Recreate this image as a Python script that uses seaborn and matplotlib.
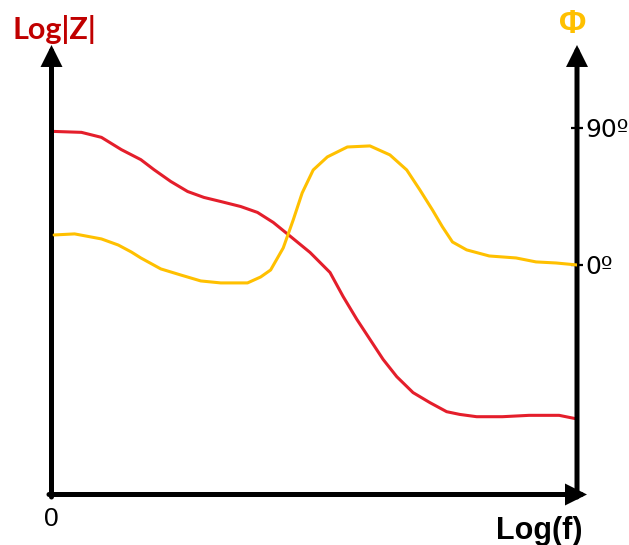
import matplotlib
matplotlib.use("Agg")
import matplotlib.pyplot as plt
import seaborn as sns

# Impedance magnitude (left axis) against log frequency
freq_mag = [0.05, 0.57, 0.95, 1.33, 1.70, 1.95, 2.27, 2.59, 2.90, 3.22, 3.60,
            3.92, 4.22, 4.55, 4.92, 5.30, 5.55, 5.81, 6.06, 6.31, 6.57, 6.88,
            7.20, 7.52, 7.77, 8.09, 8.58, 9.09, 9.66, 9.96]
log_z = [7.98, 7.96, 7.85, 7.58, 7.36, 7.14, 6.88, 6.66, 6.53, 6.44, 6.33,
         6.20, 5.98, 5.67, 5.32, 4.88, 4.35, 3.85, 3.41, 2.97, 2.59, 2.24,
         2.02, 1.82, 1.76, 1.71, 1.71, 1.74, 1.74, 1.67]

# Phase angle in degrees (right axis)
freq_phase = [0.05, 0.44, 0.95, 1.27, 1.52, 1.70, 2.08, 2.46, 2.84, 3.22, 3.73,
              3.98, 4.17, 4.41, 4.60, 4.77, 4.98, 5.25, 5.63, 6.06, 6.44, 6.76,
              7.01, 7.25, 7.44, 7.63, 7.90, 8.33, 8.84, 9.22, 9.60, 10.0]
phase = [19.7, 20.4, 17.1, 13.1, 8.5, 4.6, -2.6, -6.6, -10.5, -11.8, -11.8,
         -7.9, -3.3, 11.2, 29.6, 47.3, 62.4, 71.0, 77.5, 78.2, 72.3, 62.4,
         49.3, 36.1, 25.0, 15.1, 9.9, 5.9, 4.6, 2.0, 1.3, 0.0]

phase_ticks = [0, 90]
phase_ticklabels = ["0º", "90º"]
x_ticks = [0]
x_ticklabels = ["0"]

RED = "#E41E2B"
GOLD = "#FFC000"
AXIS_LW = 3.6

sns.set_style("white")
plt.rcParams["font.family"] = ["DejaVu Sans"]
plt.rcParams["text.color"] = "black"

fig = plt.figure(figsize=(6.29, 5.45), dpi=100)
ax = fig.add_axes([51.5 / 629, 50.5 / 545, 525.5 / 629, 449.5 / 545])
ax2 = ax.twinx()

sns.lineplot(x=freq_mag, y=log_z, ax=ax, color=RED, lw=2.2)
sns.lineplot(x=freq_phase, y=phase, ax=ax2, color=GOLD, lw=2.2)

ax.set_xlim(0, 10)
ax.set_ylim(0, 9.88)
ax2.set_ylim(-150.8, 144.5)

for a in (ax, ax2):
    for s in a.spines.values():
        s.set_visible(False)
    a.set_facecolor("none")

# Axis lines with arrow heads
arrow_kw = dict(arrowstyle="-|>,head_length=1.0,head_width=0.5",
                mutation_scale=10, lw=AXIS_LW, color="black",
                shrinkA=0, shrinkB=0, joinstyle="miter")
ax.annotate("", xy=(0, 1), xytext=(0, -0.0056), xycoords="axes fraction",
            textcoords="axes fraction", arrowprops=arrow_kw,
            annotation_clip=False)
ax.annotate("", xy=(1.019, 0), xytext=(-0.0048, 0), xycoords="axes fraction",
            textcoords="axes fraction", arrowprops=arrow_kw,
            annotation_clip=False)
ax.annotate("", xy=(1, 1), xytext=(1, -0.0056), xycoords="axes fraction",
            textcoords="axes fraction", arrowprops=arrow_kw,
            annotation_clip=False)

# Ticks
ax.set_yticks([])
ax.set_xticks(x_ticks)
ax.set_xticklabels(x_ticklabels, fontsize=19, family="Liberation Sans",
                   color="black")
ax.tick_params(axis="x", length=0, pad=9)

ax2.set_yticks(phase_ticks)
ax2.set_yticklabels(phase_ticklabels, fontsize=18, family="DejaVu Sans",
                    color="black")
ax2.tick_params(axis="y", direction="inout", length=8, width=1.6,
                pad=2, colors="black", right=True, left=False)

# Axis titles
ax.set_xlabel("Log(f)", fontsize=22, fontweight="bold",
              family="Liberation Sans", color="black", ha="right", va="top")
ax.xaxis.set_label_coords(1.0114, -0.047)

ax.set_ylabel("Log|Z|", fontsize=22, fontweight="bold", family="Lato",
              color="#C00000", rotation=0, ha="left", va="baseline")
ax.yaxis.set_label_coords(-0.0733, 1.0133)

ax2.set_ylabel("Φ", fontsize=24, fontweight="bold", family="Liberation Sans",
               color=GOLD, rotation=0, ha="center", va="center")
ax2.yaxis.set_label_coords(0.9924, 1.046)

fig.savefig("out.png", dpi=100)
